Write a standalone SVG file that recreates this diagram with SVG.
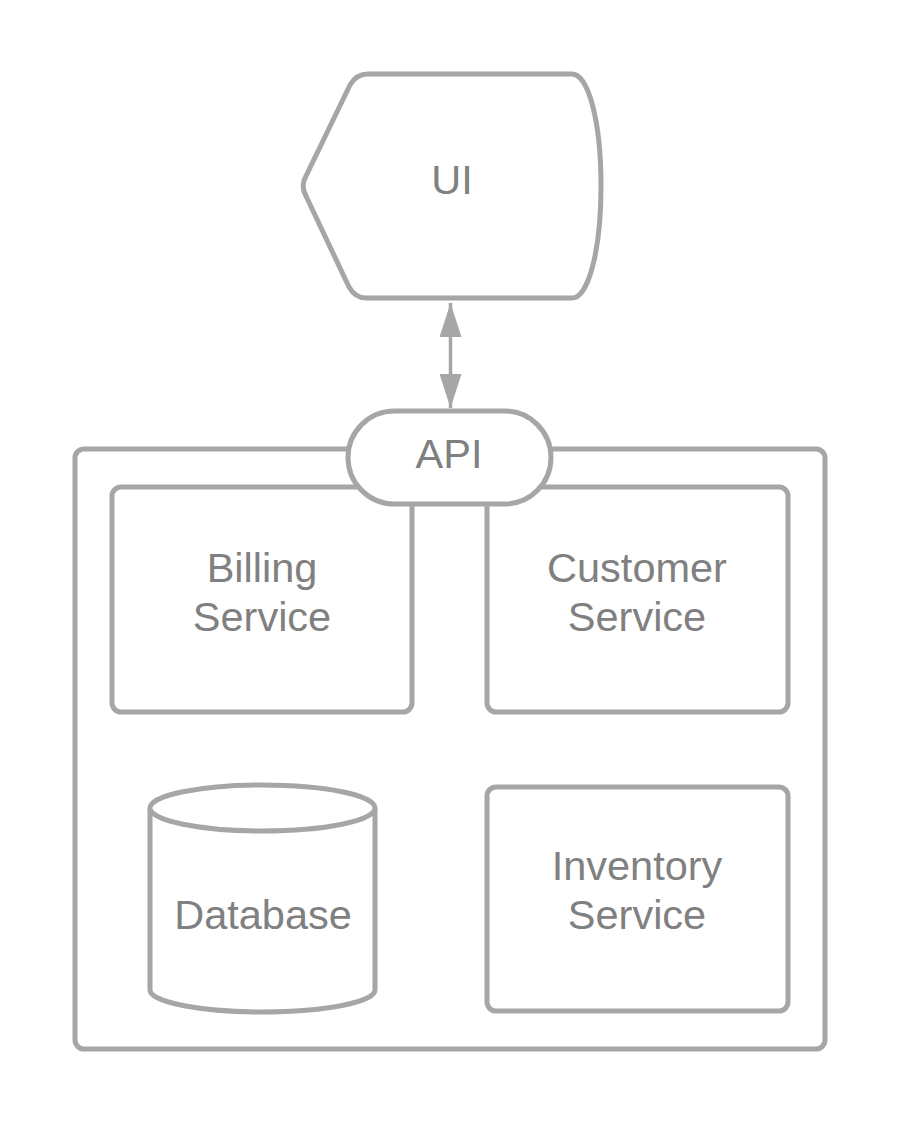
<svg xmlns="http://www.w3.org/2000/svg" width="900" height="1125" viewBox="0 0 900 1125">
<defs>
<style>
.s{fill:#ffffff;stroke:#a6a6a6;stroke-width:5;stroke-linejoin:round}
.t{font-family:"Liberation Sans",Arial,sans-serif;font-size:41.5px;fill:#808080;text-anchor:middle}
.c{stroke:#a6a6a6;stroke-width:3.5;fill:none}
</style>
<marker id="ah2" viewBox="0 0 34 22" refX="34" refY="11" markerWidth="34" markerHeight="22" markerUnits="userSpaceOnUse" orient="auto-start-reverse">
<path d="M0,0 L34,11 L0,22 Z" fill="#a6a6a6"/>
</marker>
</defs>
<rect width="900" height="1125" fill="#ffffff"/>
<g id="container">
<rect class="s" x="75" y="449" width="750" height="600" rx="9"/>
</g>
<g id="billing">
<rect class="s" x="112" y="487" width="300" height="225" rx="9"/>
<text class="t" x="262" y="582">Billing</text>
<text class="t" x="262" y="631">Service</text>
</g>
<g id="customer">
<rect class="s" x="487" y="487" width="301" height="225" rx="9"/>
<text class="t" x="637" y="582">Customer</text>
<text class="t" x="637" y="631">Service</text>
</g>
<g id="inventory">
<rect class="s" x="487" y="787" width="301" height="224" rx="9"/>
<text class="t" x="637" y="880">Inventory</text>
<text class="t" x="637" y="929">Service</text>
</g>
<g id="database">
<path class="s" d="M150,808 L150,990 A112.5,22 0 0 0 375,990 L375,808"/>
<ellipse class="s" cx="262.5" cy="808" rx="112.5" ry="23"/>
<text class="t" x="263" y="929">Database</text>
</g>
<g id="api">
<rect class="s" x="348" y="411" width="203" height="93" rx="46.5"/>
<text class="t" x="449" y="468">API</text>
</g>
<g id="ui">
<path class="s" d="M368,74 H572 C588,74 601,120 601,186 C601,252 588,298 572,298 H366 C358,298 353,294 349,287 L306,196 C302,189 302,183 306,176 L350,85 C354,78 359,74 368,74 Z"/>
<text class="t" x="452" y="194">UI</text>
</g>
<g id="connectors">
<line class="c" x1="450.5" y1="303" x2="450.5" y2="408" marker-start="url(#ah2)" marker-end="url(#ah2)"/>
</g>
</svg>
